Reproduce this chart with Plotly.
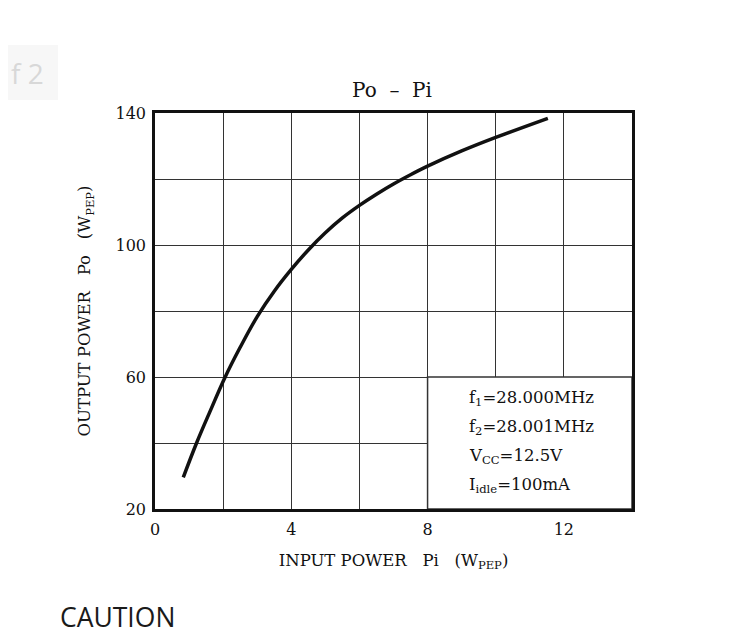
import plotly.graph_objects as go

PI_W = [0.83, 1.22, 1.6, 2.06, 2.5, 3.0, 3.5, 4.0, 4.5, 5.0, 5.5, 6.0, 6.5, 7.0, 7.5, 8.0, 9.0, 10.0, 11.53]
PO_W = [29.6, 40.0, 49.2, 60.0, 69.0, 78.3, 86.0, 92.6, 98.5, 103.7, 108.2, 112.0, 115.4, 118.5, 121.3, 123.9,
        128.5, 132.6, 138.4]

X_TICKS = [0, 4, 8, 12]
Y_TICKS = [20, 60, 100, 140]

CONDITIONS = [
    'f<sub>1</sub>=28.000MHz',
    'f<sub>2</sub>=28.001MHz',
    'V<sub>CC</sub>=12.5V',
    'I<sub>idle</sub>=100mA',
]
COND_Y = [53.5, 44.8, 36.0, 27.0]

SERIF = 'DejaVu Serif, Liberation Serif, serif'
SANS = 'Open Sans, Noto Sans, sans-serif'
INK = '#111111'
GRID = '#333333'


# plot area sits at page x 155..632, y 113..509 (page is offset 8px by the body margin)
def paper_x(px):
    return (px - 155) / 477


def paper_y(py):
    return (509 - py) / 396


fig = go.Figure()

fig.add_trace(go.Scatter(
    x=PI_W,
    y=PO_W,
    mode='lines',
    line=dict(color=INK, width=3.5, shape='spline', smoothing=1.0),
    showlegend=False,
    hoverinfo='skip',
))

# white panel for the operating conditions (covers the grid lines)
fig.add_shape(
    type='rect', xref='x', yref='y', x0=8, x1=14, y0=20, y1=60,
    fillcolor='white', line=dict(color=GRID, width=1.5), layer='between',
)

for txt, yv in zip(CONDITIONS, COND_Y):
    fig.add_annotation(
        x=9.15, y=yv, xref='x', yref='y', text=txt, showarrow=False,
        xanchor='left', yanchor='middle',
        font=dict(family=SERIF, size=16.5, color=INK),
    )

# page artefacts around the chart
fig.add_shape(type='rect', xref='paper', yref='paper',
              x0=paper_x(0), x1=paper_x(58), y0=paper_y(100), y1=paper_y(45),
              fillcolor='#f7f7f7', line=dict(width=0), layer='below')
fig.add_annotation(x=paper_x(9), y=paper_y(73), xref='paper', yref='paper',
                   text='f 2', showarrow=False, xanchor='left', yanchor='middle',
                   font=dict(family=SANS, size=28, color='#d8d8d8'))
fig.add_annotation(x=paper_x(58), y=paper_y(617), xref='paper', yref='paper',
                   text='CAUTION', showarrow=False, xanchor='left', yanchor='middle',
                   font=dict(family=SANS, size=26.5, color='#1a1a1a'))

axis_common = dict(
    showgrid=True, gridcolor=GRID, gridwidth=1.3,
    showline=True, linecolor=INK, linewidth=2.5, mirror=True,
    zeroline=False, ticks='',
    tickfont=dict(family=SERIF, size=16, color=INK),
)

fig.update_xaxes(
    range=[0, 14], tickvals=X_TICKS, ticklabelstandoff=4,
    minor=dict(tickvals=[2, 6, 10], showgrid=True, gridcolor=GRID, gridwidth=1.3),
    title=dict(text='INPUT POWER   Pi   (W<sub>PEP</sub>)', standoff=17,
               font=dict(family=SERIF, size=16.5, color=INK)),
    **axis_common,
)
fig.update_yaxes(
    range=[20, 140], tickvals=Y_TICKS, ticklabelstandoff=3,
    minor=dict(tickvals=[40, 80, 120], showgrid=True, gridcolor=GRID, gridwidth=1.3),
    title=dict(text='OUTPUT POWER   Po   (W<sub>PEP</sub>)', standoff=21,
               font=dict(family=SERIF, size=16.5, color=INK)),
    **axis_common,
)

fig.update_layout(
    width=729, height=640,
    margin=dict(l=147, r=105, t=105, b=139),
    paper_bgcolor='white', plot_bgcolor='white',
    title=dict(text='Po  –  Pi', xref='container', yref='container',
               x=(392 - 8) / 729, xanchor='center', y=1 - (90 - 8) / 640, yanchor='middle',
               font=dict(family=SERIF, size=20, color=INK)),
)

fig.write_html('out.html')
